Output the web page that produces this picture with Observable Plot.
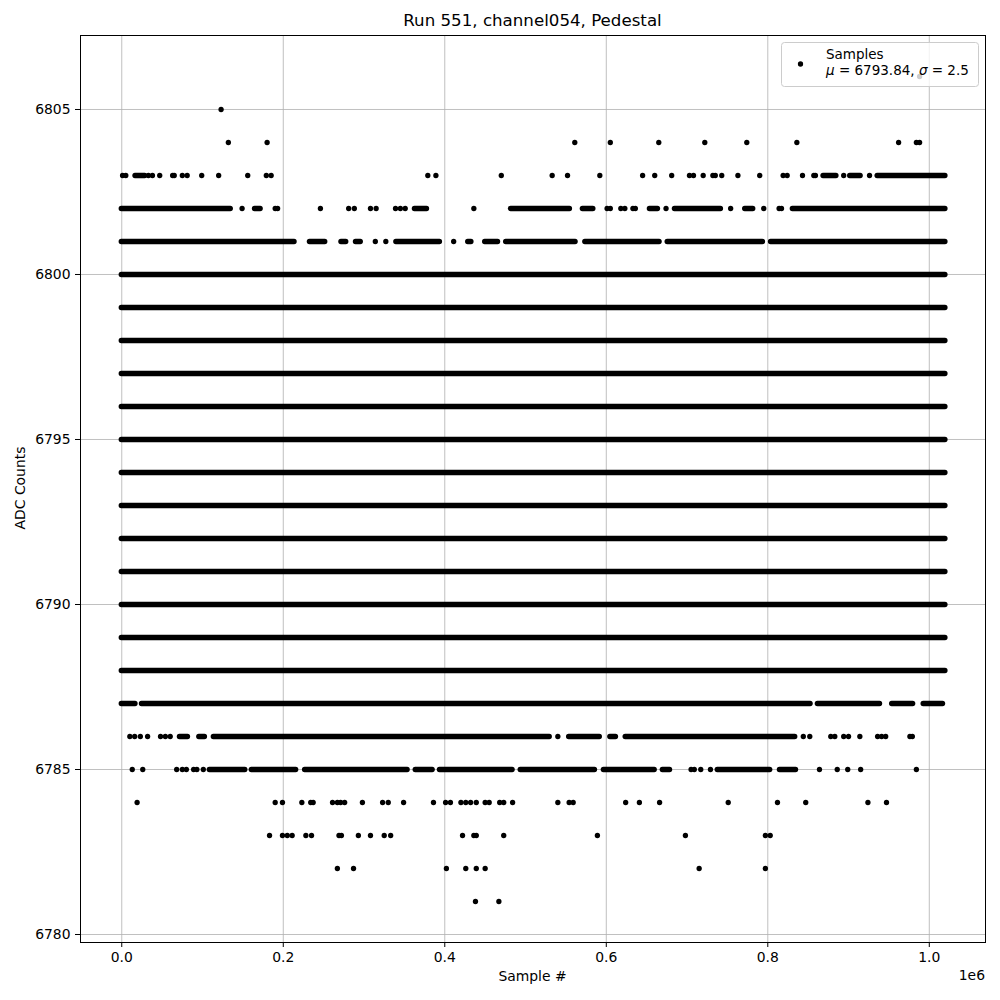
<!DOCTYPE html>
<html>
<head>
<meta charset="utf-8">
<script src="https://cdn.jsdelivr.net/npm/d3@7"></script>
<script src="https://cdn.jsdelivr.net/npm/@observablehq/plot@0.6"></script>
<style>
  body { margin: 0; background: #fff; font-family: "DejaVu Sans", sans-serif; }
  #wrap { position: relative; width: 1000px; height: 1000px; }
  #overlay { position: absolute; left: 0; top: 0; pointer-events: none; }
</style>
</head>
<body>
<div id="wrap"></div>
<script>
// ---- Data (sample positions in thousands of samples, ADC levels) ----
const K = 1000;
const titleText = "Run 551, channel054, Pedestal";
const xLabel = "Sample #";
const yLabel = "ADC Counts";
const xTicks = [0, 200000, 400000, 600000, 800000, 1000000];
const yTicks = [6780, 6785, 6790, 6795, 6800, 6805];
const legendName = "Samples";
const meanValue = 6793.84;
const sigmaValue = 2.5;

// ADC levels that are continuously populated across the whole run
const fullLevels = [6788, 6789, 6790, 6791, 6792, 6793, 6794, 6795, 6796, 6797, 6798, 6799, 6800];
const firstSampleK = 0;
const lastSampleK = 1020;

// Densely populated stretches [start, end] per level (thousands of samples)
const runs6801 = [[0,214],[233,252],[272,278],[290,296],[340,394],[429,433],[450,466],[476,562],[574,666],[676,794],[804,1020]];
const runs6802 = [[0,135],[165,172],[363,378],[482,555],[571,584],[654,664],[685,742],[772,782],[831,1020]];
const runs6803 = [[17,29],[869,885],[902,915],[936,1020]];
const runs6787 = [[0,17],[25,853],[862,939],[954,980],[993,1017]];
const runs6786 = [[72,82],[96,103],[114,530],[554,592],[605,612],[624,834]];
const runs6785 = [[109,153],[161,216],[227,354],[364,385],[394,484],[494,586],[597,660],[670,679],[738,803],[815,835]];

// Isolated samples per level (thousands of samples)
const pts6806 = [988];
const pts6805 = [123];
const pts6804 = [132,180,561,605,665,722,774,836,962,984,988];
const pts6803 = [1,5,33,38,47,63,65,75,81,99,120,156,179,185,379,389,470,533,552,592,645,660,681,703,708,720,732,735,743,763,790,819,824,843,857,859,894,926];
const pts6802 = [149,190,193,246,281,288,308,315,339,345,351,436,601,605,618,623,633,636,674,754,795,814,817];
const pts6801 = [314,327,411];
const pts6786 = [10,16,23,32,48,54,60,540,844,852,878,883,894,900,914,936,941,946,976,979];
const pts6785 = [13,26,68,75,80,89,93,101,705,709,717,729,864,886,899,915,984];
const pts6784 = [19,190,199,223,234,237,261,267,271,276,298,323,330,349,386,401,407,420,426,432,439,450,455,468,473,484,540,554,559,624,641,666,751,812,847,924,947];
const pts6783 = [183,199,205,211,228,235,269,272,293,308,325,333,422,436,439,473,589,698,797,803];
const pts6782 = [267,287,402,426,439,450,715,797];
const pts6781 = [438,467];

// ---- Build tables ----
const runs = [];
fullLevels.forEach(l => runs.push({level: l, start: firstSampleK * K, end: lastSampleK * K}));
function addRuns(level, list) { list.forEach(([a, b]) => runs.push({level, start: a * K, end: b * K})); }
addRuns(6801, runs6801); addRuns(6802, runs6802); addRuns(6803, runs6803);
addRuns(6787, runs6787); addRuns(6786, runs6786); addRuns(6785, runs6785);

const points = [];
function addPts(level, list) { list.forEach(s => points.push({level, sample: s * K})); }
addPts(6806, pts6806); addPts(6805, pts6805); addPts(6804, pts6804); addPts(6803, pts6803);
addPts(6802, pts6802); addPts(6801, pts6801); addPts(6786, pts6786); addPts(6785, pts6785);
addPts(6784, pts6784); addPts(6783, pts6783); addPts(6782, pts6782); addPts(6781, pts6781);

const chart = Plot.plot({
  width: 1000,
  height: 1000,
  marginLeft: 80,
  marginRight: 15,
  marginTop: 35,
  marginBottom: 58,
  style: {fontFamily: "DejaVu Sans", fontSize: "13.9px", color: "black", background: "white"},
  x: {domain: [-51100, 1069600], label: null},
  y: {domain: [6779.758, 6807.242], label: null},
  marks: [
    Plot.gridX({ticks: xTicks, stroke: "#b0b0b0", strokeOpacity: 1, strokeWidth: 0.8}),
    Plot.gridY({ticks: yTicks, stroke: "#b0b0b0", strokeOpacity: 1, strokeWidth: 0.8}),
    Plot.ruleY(runs, {y: "level", x1: "start", x2: "end", stroke: "black", strokeWidth: 5.3, strokeLinecap: "round"}),
    Plot.dot(points, {x: "sample", y: "level", r: 2.65, fill: "black"}),
    Plot.axisX({ticks: xTicks, tickSize: 5, tickPadding: 5, tickFormat: d => (d / 1e6).toFixed(1), label: null}),
    Plot.axisY({ticks: yTicks, tickSize: 5, tickPadding: 5, tickFormat: d => String(d), label: null}),
    Plot.frame({stroke: "black", strokeWidth: 1})
  ]
});
const wrap = document.getElementById("wrap");
wrap.appendChild(chart);

// ---- Text overlay: title, axis labels, offset, legend ----
const ns = "http://www.w3.org/2000/svg";
const ov = document.createElementNS(ns, "svg");
ov.setAttribute("id", "overlay");
ov.setAttribute("width", 1000);
ov.setAttribute("height", 1000);
ov.setAttribute("font-family", "DejaVu Sans");
function txt(x, y, s, size, anchor, extra) {
  const t = document.createElementNS(ns, "text");
  t.setAttribute("x", x); t.setAttribute("y", y);
  t.setAttribute("font-size", size);
  t.setAttribute("text-anchor", anchor);
  t.setAttribute("fill", "black");
  if (extra) for (const k in extra) t.setAttribute(k, extra[k]);
  t.textContent = s;
  ov.appendChild(t);
  return t;
}
txt(532.5, 26, titleText, 16.67, "middle");
txt(532.5, 981, xLabel, 13.9, "middle");
txt(985, 980, "1e6", 13.9, "end");
txt(0, 0, yLabel, 13.9, "middle", {transform: "translate(25,488) rotate(-90)"});

const box = document.createElementNS(ns, "rect");
box.setAttribute("x", 781.5); box.setAttribute("y", 42.5);
box.setAttribute("width", 197); box.setAttribute("height", 44);
box.setAttribute("rx", 3);
box.setAttribute("fill", "white"); box.setAttribute("fill-opacity", 0.8);
box.setAttribute("stroke", "#cccccc"); box.setAttribute("stroke-width", 1);
ov.appendChild(box);
const ld = document.createElementNS(ns, "circle");
ld.setAttribute("cx", 800.5); ld.setAttribute("cy", 64); ld.setAttribute("r", 2.65);
ld.setAttribute("fill", "black");
ov.appendChild(ld);
txt(826, 58.5, legendName, 13.5, "start");
const l2 = txt(826, 75, "", 13.5, "start");
function tsp(parent, s, italic) {
  const t = document.createElementNS(ns, "tspan");
  if (italic) t.setAttribute("font-style", "italic");
  t.textContent = s;
  parent.appendChild(t);
}
tsp(l2, "\u03bc", true);
tsp(l2, " = " + meanValue.toFixed(2) + ", ", false);
tsp(l2, "\u03c3", true);
tsp(l2, " = " + sigmaValue, false);
wrap.appendChild(ov);
</script>
</body>
</html>
